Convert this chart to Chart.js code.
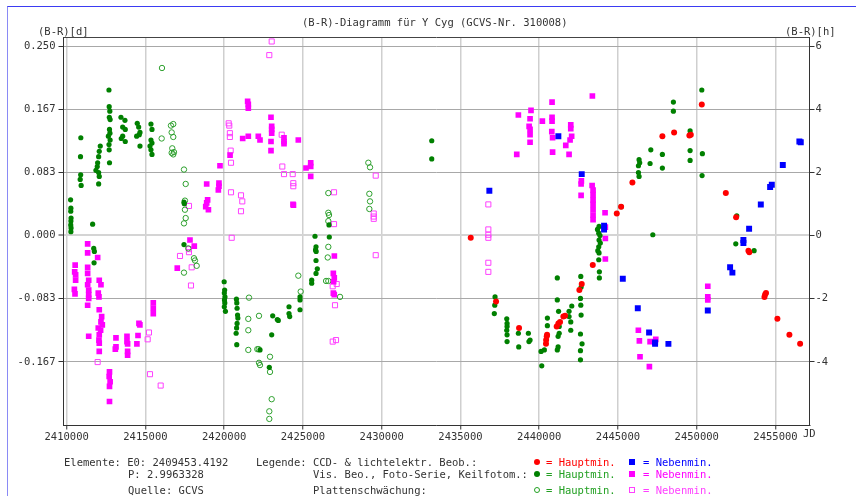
<!DOCTYPE html>
<html>
<head>
<meta charset="utf-8">
<script src="https://cdn.jsdelivr.net/npm/chart.js@4.4.1/dist/chart.umd.min.js"></script>
<style>
html, body { margin: 0; padding: 0; background: #fff; }
#wrap { position: relative; width: 856px; height: 496px; overflow: hidden; background: #fff; }
#frame { position: absolute; left: 7px; top: 6px; width: 900px; height: 600px;
         border-top: 1px solid #3b3bf2; border-left: 1px solid #8a8af5; }
canvas { position: absolute; left: 0; top: 0; }
.t { position: absolute; font-family: "DejaVu Sans Mono", monospace; font-size: 10.5px;
     line-height: 12px; color: #333; white-space: pre; }
.mk { position: absolute; box-sizing: border-box; }
</style>
</head>
<body>
<div id="wrap">
  <div id="frame"></div>
  <canvas id="c" width="856" height="496"></canvas>

  <div class="t" style="left:302px;top:16px">(B-R)-Diagramm für Y Cyg (GCVS-Nr. 310008)</div>
  <div class="t" style="left:38px;top:25px">(B-R)[d]</div>
  <div class="t" style="left:785px;top:25px">(B-R)[h]</div>
  <div class="t" style="left:803px;top:427px">JD</div>

  <div class="t" style="left:64px;top:456px">Elemente: E0: 2409453.4192</div>
  <div class="t" style="left:128px;top:468px">P: 2.9963328</div>
  <div class="t" style="left:128px;top:484px">Quelle: GCVS</div>

  <div class="t" style="left:256px;top:456px">Legende: CCD- &amp; lichtelektr. Beob.:</div>
  <div class="t" style="left:313px;top:468px">Vis. Beo., Foto-Serie, Keilfotom.:</div>
  <div class="t" style="left:313px;top:484px">Plattenschwächung:</div>

  <div class="mk" style="left:534px;top:459px;width:6px;height:6px;border-radius:50%;background:#ff0000"></div>
  <div class="t" style="left:546px;top:456px;color:#ff0000">= Hauptmin.</div>
  <div class="mk" style="left:629px;top:459px;width:6px;height:6px;background:#0000ff"></div>
  <div class="t" style="left:643px;top:456px;color:#0000ff">= Nebenmin.</div>

  <div class="mk" style="left:534px;top:471px;width:6px;height:6px;border-radius:50%;background:#008000"></div>
  <div class="t" style="left:546px;top:468px;color:#22a022">= Hauptmin.</div>
  <div class="mk" style="left:629px;top:471px;width:6px;height:6px;background:#ff00ff"></div>
  <div class="t" style="left:643px;top:468px;color:#ff00ff">= Nebenmin.</div>

  <div class="mk" style="left:534px;top:487px;width:6px;height:6px;border-radius:50%;border:1px solid #22a022"></div>
  <div class="t" style="left:546px;top:484px;color:#22a022">= Hauptmin.</div>
  <div class="mk" style="left:629px;top:487px;width:6px;height:6px;border:1px solid #ff40ff"></div>
  <div class="t" style="left:643px;top:484px;color:#ff40ff">= Nebenmin.</div>
</div>

<script>
// Axis ranges and tick positions
const jdMin = 2409800, jdMax = 2457160;
const brMin = -0.2507, brMax = 0.2619;          // (B-R) in days
const jdTicks = [2410000, 2415000, 2420000, 2425000, 2430000, 2435000, 2440000, 2445000, 2450000, 2455000];
const dayTicks = [-0.16667, -0.08333, 0, 0.08333, 0.16667, 0.25];
const hourTicks = [-4, -2, 0, 2, 4, 6];

// CCD & photoelectric observations, primary minima
const ccdPrimJD = [2435654, 2437260, 2438721, 2440500, 2440480, 2440440, 2440430,
  2441217, 2441323, 2441535, 2441643, 2441111, 2442550, 2442700, 2443401,
  2444925, 2445200, 2445917, 2447820, 2448564, 2449535, 2449624, 2450322,
  2451847, 2452500, 2453283, 2453340, 2454341, 2454400, 2454300, 2455122,
  2455884, 2456564];
const ccdPrimBR = [-0.003, -0.087, -0.122, -0.131, -0.133, -0.138, -0.143,
  -0.116, -0.114, -0.107, -0.106, -0.120, -0.072, -0.064, -0.039,
  0.029, 0.038, 0.070, 0.131, 0.136, 0.132, 0.133, 0.173,
  0.056, 0.024, -0.020, -0.022, -0.078, -0.076, -0.081, -0.110,
  -0.131, -0.143];

// CCD & photoelectric observations, secondary minima
const ccdSecJD = [2436835, 2441217, 2442700, 2444118, 2444118, 2445307, 2446259,
  2446976, 2447357, 2447357, 2448203, 2450703, 2452119, 2452265, 2452964,
  2452964, 2453326, 2454069, 2454660, 2454767, 2455465, 2456517, 2456606];
const ccdSecBR = [0.059, 0.131, 0.081, 0.013, 0.008, -0.057, -0.096,
  -0.128, -0.143, -0.141, -0.143, -0.099, -0.042, -0.049, -0.006,
  -0.010, 0.009, 0.041, 0.064, 0.067, 0.093, 0.124, 0.123];

// Visual, photographic series and wedge photometer, primary minima
const visPrimJD = [
  2410250, 2410270, 2410260, 2410280, 2410270, 2410260, 2410280, 2410270,
  2410900, 2410880, 2410890, 2410860, 2410920,
  2411650, 2411720, 2411760, 2411740,
  2412134, 2412070, 2412032, 2411968, 2411943, 2411861, 2412032, 2412070, 2412032,
  2412686, 2412700, 2412740, 2412710, 2412760, 2412720, 2412750, 2412650, 2412760, 2412690, 2412700, 2412720,
  2413448, 2413702, 2413556, 2413721, 2413556, 2413721, 2413467,
  2414483, 2414572, 2414655, 2414445, 2414610, 2414655,
  2415353, 2415417, 2415353, 2415417, 2415290, 2415353, 2415417,
  2417449, 2417470, 2417449,
  2420000, 2420030, 2420010, 2420050, 2420020, 2420040, 2420010, 2420080,
  2420780, 2420800, 2420820, 2420850, 2420870, 2420820, 2420790, 2420760, 2420800,
  2422865, 2423017, 2422275, 2423081, 2423373, 2423437,
  2424116, 2424116, 2424160, 2424815, 2424815, 2424815,
  2425767, 2426675, 2425831, 2425800, 2425840, 2425831, 2425913, 2425831, 2425558, 2425558, 2426655,
  2433178, 2433178,
  2437197, 2437180, 2437150,
  2437940, 2437960, 2437960, 2437940, 2437960, 2437960,
  2438677, 2438700, 2439312, 2439420, 2439350,
  2440118, 2440328, 2440162, 2440520, 2440520,
  2441150, 2441150, 2441230, 2441270, 2441270, 2441200, 2441200, 2441150,
  2441896, 2441896, 2442004, 2442004, 2442068,
  2442640, 2442660, 2442620, 2442640, 2442660, 2442620, 2442720, 2442620, 2442620,
  2443800, 2443780, 2443800, 2443780, 2443800, 2443780, 2443820, 2443820, 2443700, 2443880, 2443720, 2443860,
  2445200, 2446340, 2446380, 2446300, 2446300, 2446340,
  2447085, 2447039, 2447820, 2447820, 2448520, 2448520,
  2449580, 2449580, 2449580, 2450322, 2450360, 2450340,
  2447212, 2452543, 2452480, 2453643];
const visPrimBR = [
  0.047, 0.036, 0.032, 0.023, 0.019, 0.014, 0.010, 0.005,
  0.129, 0.104, 0.080, 0.074, 0.066,
  0.015, -0.017, -0.021, -0.036,
  0.118, 0.111, 0.104, 0.096, 0.091, 0.086, 0.083, 0.078, 0.068,
  0.192, 0.170, 0.164, 0.156, 0.153, 0.140, 0.135, 0.131, 0.126, 0.120, 0.113, 0.096,
  0.156, 0.152, 0.143, 0.140, 0.131, 0.124, 0.128,
  0.148, 0.143, 0.136, 0.131, 0.133, 0.118,
  0.147, 0.140, 0.126, 0.122, 0.118, 0.113, 0.107,
  0.044, 0.042, -0.012,
  -0.061, -0.072, -0.076, -0.081, -0.085, -0.089, -0.094, -0.100,
  -0.084, -0.089, -0.096, -0.105, -0.109, -0.116, -0.122, -0.129, -0.144,
  -0.174, -0.131, -0.151, -0.106, -0.111, -0.112,
  -0.094, -0.103, -0.107, -0.081, -0.085, -0.098,
  -0.001, -0.002, -0.015, -0.019, -0.021, -0.033, -0.044, -0.050, -0.059, -0.063, 0.014,
  0.125, 0.101,
  -0.081, -0.092, -0.103,
  -0.110, -0.116, -0.120, -0.125, -0.131, -0.140,
  -0.129, -0.147, -0.129, -0.138, -0.140,
  -0.153, -0.151, -0.172, -0.109, -0.119,
  -0.056, -0.085, -0.100, -0.120, -0.129, -0.133, -0.147, -0.151,
  -0.100, -0.107, -0.114, -0.125, -0.093,
  -0.054, -0.068, -0.083, -0.092, -0.105, -0.130, -0.143, -0.152, -0.164,
  0.012, 0.003, -0.006, -0.015, -0.023, -0.032, -0.048, -0.056, 0.008, -0.010, -0.020, 0.000,
  0.038, 0.100, 0.096, 0.092, 0.083, 0.078,
  0.113, 0.095, 0.107, 0.089, 0.176, 0.164,
  0.138, 0.112, 0.099, 0.192, 0.108, 0.079,
  0.001, 0.026, -0.011, -0.020];

// Visual, photographic series and wedge photometer, secondary minima
const visSecJD = [
  2410540, 2410510, 2410570, 2410570, 2410490, 2410530,
  2411333, 2411333, 2411333, 2411333, 2411400, 2411333, 2411400, 2411400, 2411400, 2411333, 2411400,
  2411968, 2412070, 2412178, 2412007, 2412051, 2412070, 2412222, 2412178, 2412264, 2412007, 2412156, 2412070, 2412051, 2412070, 2412070,
  2413131, 2413131, 2413090,
  2413830, 2413830, 2413870, 2413870, 2413870,
  2414530, 2414460, 2414590, 2414650,
  2415500, 2415500, 2415500,
  2412720, 2412700, 2412760, 2412720, 2412720,
  2419735, 2418890, 2419670, 2419670, 2419630, 2418950, 2418890, 2418830, 2419000,
  2417830, 2418103, 2417023,
  2420374, 2421490, 2421532, 2421532,
  2421176, 2421532, 2422167, 2422275,
  2422973, 2423017, 2423017, 2423017, 2422973, 2422973,
  2423799, 2423799, 2423799, 2424707,
  2425195, 2425494, 2425494, 2425494,
  2424370, 2424400,
  2426930, 2426990, 2426950, 2426930, 2426990, 2426995,
  2438677, 2438575,
  2439480, 2439420, 2439360, 2439420, 2439420, 2439420,
  2440200,
  2440816, 2440816, 2440816, 2440800, 2440850, 2440850,
  2441687, 2441896,
  2442004, 2442004, 2442060, 2441960,
  2443376,
  2442677, 2442660, 2442660,
  2443360, 2443420, 2443420, 2443420, 2443420, 2443420, 2443420, 2443420,
  2444181, 2444200, 2444200, 2444200,
  2446296, 2446360, 2446400, 2446995,
  2447039, 2447357, 2447400,
  2450703, 2450703, 2450703];
const visSecBR = [
  -0.039, -0.048, -0.052, -0.059, -0.071, -0.077,
  -0.011, -0.023, -0.042, -0.050, -0.059, -0.065, -0.072, -0.078, -0.083, -0.092, -0.133,
  -0.029, -0.059, -0.065, -0.076, -0.081, -0.098, -0.107, -0.114, -0.118, -0.122, -0.125, -0.131, -0.138, -0.142, -0.153,
  -0.135, -0.147, -0.150,
  -0.133, -0.140, -0.143, -0.153, -0.158,
  -0.132, -0.143, -0.116, -0.118,
  -0.089, -0.096, -0.103,
  -0.180, -0.186, -0.193, -0.199, -0.219,
  0.092, 0.068, 0.069, 0.065, 0.060, 0.047, 0.043, 0.038, 0.034,
  -0.006, -0.014, -0.043,
  0.106, 0.177, 0.173, 0.168,
  0.128, 0.131, 0.131, 0.126,
  0.156, 0.144, 0.140, 0.135, 0.124, 0.112,
  0.129, 0.124, 0.121, 0.126,
  0.089, 0.096, 0.091, 0.078,
  0.041, 0.040,
  -0.050, -0.056, -0.061, -0.076, -0.078, -0.027,
  0.159, 0.107,
  0.165, 0.154, 0.144, 0.140, 0.133, 0.123,
  0.151,
  0.176, 0.156, 0.151, 0.137, 0.129, 0.110,
  0.119, 0.107,
  0.146, 0.141, 0.131, 0.126,
  0.184,
  0.072, 0.068, 0.053,
  0.066, 0.060, 0.054, 0.047, 0.041, 0.034, 0.027, 0.021,
  0.030, 0.011, -0.004, -0.031,
  -0.125, -0.139, -0.160, -0.173,
  -0.140, -0.141, -0.137,
  -0.067, -0.081, -0.085];

// Plate estimates (Plattenschwächung), primary minima
const platePrimJD = [
  2416052, 2416032,
  2416769, 2416623, 2416667, 2416769, 2416705, 2416667, 2416769, 2416814,
  2417449, 2417557, 2417510, 2417510, 2417557, 2417449,
  2417722, 2418084, 2418147, 2418255, 2417449,
  2421576, 2421532, 2421532, 2421532,
  2422211, 2422105, 2422192, 2422211, 2422275, 2422910, 2422910,
  2423017, 2422865, 2422865,
  2424707, 2424859,
  2426612, 2426612, 2426655, 2426612, 2426612, 2426574, 2426470, 2426612,
  2427355, 2429152, 2429260, 2429216, 2429260, 2429216];
const platePrimBR = [
  0.221, 0.128,
  0.147, 0.145, 0.136, 0.130, 0.115, 0.109, 0.107, 0.110,
  0.087, 0.068, 0.046, 0.034, 0.023, 0.016,
  -0.017, -0.030, -0.033, -0.040, -0.049,
  -0.082, -0.110, -0.125, -0.151,
  -0.106, -0.150, -0.150, -0.168, -0.171, -0.160, -0.180,
  -0.216, -0.232, -0.242,
  -0.053, -0.074,
  0.056, 0.030, 0.027, 0.019, -0.015, -0.029, -0.060, -0.060,
  -0.081, 0.096, 0.090, 0.055, 0.045, 0.035];

// Plate estimates (Plattenschwächung), secondary minima
const plateSecJD = [
  2411968, 2415226, 2415143, 2415290, 2415969,
  2420286, 2420324, 2420362, 2420362, 2420413, 2420433, 2420433, 2420478,
  2421068, 2421150, 2421068,
  2417766, 2417766, 2417766, 2417938, 2417893, 2417195,
  2423017, 2422865, 2423653, 2423691, 2423799, 2424351, 2424389, 2424389,
  2426974, 2426974, 2426891, 2427145, 2427037, 2426891, 2427100,
  2429622, 2429495, 2429495, 2429495, 2429622,
  2436771, 2436771, 2436771, 2436771, 2436771, 2436771];
const plateSecBR = [
  -0.167, -0.128, -0.137, -0.183, -0.198,
  0.148, 0.145, 0.135, 0.130, 0.112, 0.096, 0.057, -0.003,
  0.053, 0.045, 0.032,
  0.039, -0.022, -0.018, -0.042, -0.066, -0.027,
  0.256, 0.238, 0.133, 0.091, 0.081, 0.081, 0.069, 0.065,
  0.057, 0.015, -0.067, -0.064, -0.092, -0.140, -0.138,
  0.079, 0.029, 0.025, 0.022, -0.026,
  0.041, 0.008, 0.001, -0.003, -0.036, -0.048];

const pts = (xs, ys) => xs.map((x, i) => ({ x: x, y: ys[i] }));
const monoFont = { family: '"DejaVu Sans Mono", monospace', size: 10.5 };

// Frame line along the top of the plot area
const topEdge = {
  id: 'topEdge',
  beforeDatasetsDraw(chart) {
    const a = chart.chartArea, ctx = chart.ctx;
    ctx.save();
    ctx.strokeStyle = '#444';
    ctx.lineWidth = 1;
    ctx.beginPath();
    ctx.moveTo(a.left, Math.round(a.top) + 0.5);
    ctx.lineTo(a.right, Math.round(a.top) + 0.5);
    ctx.stroke();
    ctx.restore();
  }
};

new Chart(document.getElementById('c'), {
  type: 'scatter',
  data: {
    datasets: [
      { label: 'CCD Hauptmin.', data: pts(ccdPrimJD, ccdPrimBR), pointStyle: 'circle',
        pointRadius: 3, backgroundColor: '#ff0000', borderColor: '#ff0000', borderWidth: 0 },
      { label: 'CCD Nebenmin.', data: pts(ccdSecJD, ccdSecBR), pointStyle: 'rect',
        pointRadius: 4.2, backgroundColor: '#0000ff', borderColor: '#0000ff', borderWidth: 0 },
      { label: 'Vis. Hauptmin.', data: pts(visPrimJD, visPrimBR), pointStyle: 'circle',
        pointRadius: 2.6, backgroundColor: '#008000', borderColor: '#008000', borderWidth: 0 },
      { label: 'Vis. Nebenmin.', data: pts(visSecJD, visSecBR), pointStyle: 'rect',
        pointRadius: 4, backgroundColor: '#ff00ff', borderColor: '#ff00ff', borderWidth: 0 },
      { label: 'Platte Hauptmin.', data: pts(platePrimJD, platePrimBR), pointStyle: 'circle',
        pointRadius: 2.7, backgroundColor: 'rgba(0,0,0,0)', borderColor: '#2ea02e', borderWidth: 1 },
      { label: 'Platte Nebenmin.', data: pts(plateSecJD, plateSecBR), pointStyle: 'rect',
        pointRadius: 3.6, backgroundColor: 'rgba(0,0,0,0)', borderColor: '#ff40ff', borderWidth: 1 }
    ]
  },
  options: {
    responsive: false,
    devicePixelRatio: 1,
    animation: false,
    events: [],
    layout: { padding: { top: 37, bottom: 50, left: 0, right: 0 } },
    plugins: { legend: { display: false }, tooltip: { enabled: false }, title: { display: false } },
    scales: {
      x: {
        type: 'linear', position: 'bottom', min: jdMin, max: jdMax,
        afterBuildTicks: s => { s.ticks = jdTicks.map(v => ({ value: v })); },
        afterFit: s => { s.height = 20.5; },
        grid: { color: '#cfcfcf', lineWidth: 1.5, tickColor: '#333', tickLength: 4, tickWidth: 1 },
        border: { color: '#333', width: 1 },
        ticks: { font: monoFont, color: '#333', padding: 1, maxRotation: 0, autoSkip: false,
                 callback: v => String(v) }
      },
      y: {
        type: 'linear', position: 'left', min: brMin, max: brMax,
        afterBuildTicks: s => { s.ticks = dayTicks.map(v => ({ value: v })); },
        afterFit: s => { s.width = 63.5; },
        grid: {
          color: c => (c.tick && c.tick.value === 0) ? '#d4d4d4' : '#a8a8a8',
          lineWidth: c => (c.tick && c.tick.value === 0) ? 2 : 1,
          tickColor: '#333', tickLength: 5, tickWidth: 1
        },
        border: { color: '#333', width: 1 },
        ticks: { font: monoFont, color: '#333', padding: 3, autoSkip: false,
                 callback: v => v.toFixed(3) }
      },
      yh: {
        type: 'linear', position: 'right', min: brMin * 24, max: brMax * 24,
        afterBuildTicks: s => { s.ticks = hourTicks.map(v => ({ value: v })); },
        afterFit: s => { s.width = 46.5; },
        grid: { drawOnChartArea: false, tickColor: '#333', tickLength: 5, tickWidth: 1 },
        border: { color: '#333', width: 1 },
        ticks: { font: monoFont, color: '#333', padding: 1, autoSkip: false,
                 callback: v => String(v) }
      }
    }
  },
  plugins: [topEdge]
});
</script>
</body>
</html>
